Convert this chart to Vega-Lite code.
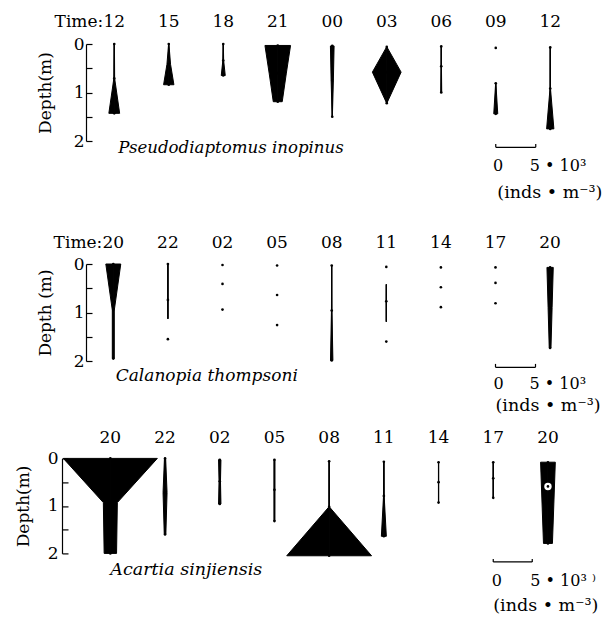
{
  "$schema": "https://vega.github.io/schema/vega-lite/v6.json",
  "padding": {"left": 14, "top": 12, "right": 5, "bottom": 2},
  "config": {
    "view": {"stroke": null},
    "font": "DejaVu Serif",
    "axis": {"grid": false, "tickSize": -6, "domainColor": "black", "tickColor": "black", "domainWidth": 1.2, "tickWidth": 1.2, "labelColor": "black", "titleColor": "black", "labelFont": "DejaVu Serif", "titleFont": "DejaVu Serif", "labelFontSize": 17, "titleFontSize": 17, "titleFontWeight": "normal", "labelFlush": false, "labelOverlap": false}
  },
  "datasets": {
    "pi": [
      {"i": 1, "t": "12", "d": 0, "a": 0.05, "s": "k", "obs": true},
      {"i": 1, "t": "12", "d": 0.71, "a": 0.1, "s": "k", "obs": true},
      {"i": 1, "t": "12", "d": 1.43, "a": 1.35, "s": "k", "obs": true},
      {"i": 2, "t": "15", "d": 0, "a": 0.04, "s": "k", "obs": true},
      {"i": 2, "t": "15", "d": 0.42, "a": 0.45, "s": "k", "obs": true},
      {"i": 2, "t": "15", "d": 0.84, "a": 1.29, "s": "k", "obs": true},
      {"i": 3, "t": "18", "d": 0, "a": 0.03, "s": "k", "obs": true},
      {"i": 3, "t": "18", "d": 0.34, "a": 0.1, "s": "k", "obs": true},
      {"i": 3, "t": "18", "d": 0.65, "a": 0.5, "s": "k", "obs": true},
      {"i": 4, "t": "21", "d": 0.03, "a": 3.2, "s": "k", "obs": true},
      {"i": 4, "t": "21", "d": 0.6, "a": 2.15, "s": "k", "obs": true},
      {"i": 4, "t": "21", "d": 1.19, "a": 1.12, "s": "k", "obs": true},
      {"i": 5, "t": "00", "d": 0.04, "a": 0.46, "s": "k", "obs": true},
      {"i": 5, "t": "00", "d": 0.75, "a": 0.28, "s": "k", "obs": true},
      {"i": 5, "t": "00", "d": 1.5, "a": 0.03, "s": "k", "obs": true},
      {"i": 6, "t": "03", "d": 0.06, "a": 0.03, "s": "k", "obs": true},
      {"i": 6, "t": "03", "d": 0.58, "a": 3.59, "s": "k", "obs": true},
      {"i": 6, "t": "03", "d": 1.22, "a": 0.03, "s": "k", "obs": true},
      {"i": 7, "t": "06", "d": 0.05, "a": 0.03, "s": "k", "obs": true},
      {"i": 7, "t": "06", "d": 0.46, "a": 0.05, "s": "k", "obs": true},
      {"i": 7, "t": "06", "d": 1.0, "a": 0.12, "s": "k", "obs": true},
      {"i": 8, "t": "09", "d": 0.08, "a": 0, "s": null, "obs": true},
      {"i": 8, "t": "09", "d": 0.81, "a": 0.03, "s": "k", "obs": true},
      {"i": 8, "t": "09", "d": 1.44, "a": 0.5, "s": "k", "obs": true},
      {"i": 9, "t": "12", "d": 0.07, "a": 0.03, "s": "k", "obs": true},
      {"i": 9, "t": "12", "d": 0.92, "a": 0.06, "s": "k", "obs": true},
      {"i": 9, "t": "12", "d": 1.75, "a": 0.91, "s": "k", "obs": true}
    ],
    "ct": [
      {"i": 1, "t": "20", "d": 0, "a": 1.87, "s": "k", "obs": true},
      {"i": 1, "t": "20", "d": 0.95, "a": 0.25, "s": "k", "obs": true},
      {"i": 1, "t": "20", "d": 1.95, "a": 0.25, "s": "k", "obs": true},
      {"i": 2, "t": "22", "d": 0, "a": 0.02, "s": "k", "obs": true},
      {"i": 2, "t": "22", "d": 0.74, "a": 0.02, "s": "k", "obs": true},
      {"i": 2, "t": "22", "d": 1.13, "a": 0, "s": "k", "obs": false},
      {"i": 2, "t": "22", "d": 1.55, "a": 0, "s": null, "obs": true},
      {"i": 3, "t": "02", "d": 0.02, "a": 0, "s": null, "obs": true},
      {"i": 3, "t": "02", "d": 0.41, "a": 0, "s": null, "obs": true},
      {"i": 3, "t": "02", "d": 0.94, "a": 0, "s": null, "obs": true},
      {"i": 4, "t": "05", "d": 0.03, "a": 0, "s": null, "obs": true},
      {"i": 4, "t": "05", "d": 0.64, "a": 0, "s": null, "obs": true},
      {"i": 4, "t": "05", "d": 1.26, "a": 0, "s": null, "obs": true},
      {"i": 5, "t": "08", "d": 0.03, "a": 0.03, "s": "k", "obs": true},
      {"i": 5, "t": "08", "d": 0.96, "a": 0.06, "s": "k", "obs": true},
      {"i": 5, "t": "08", "d": 1.99, "a": 0.3, "s": "k", "obs": true},
      {"i": 6, "t": "11", "d": 0.06, "a": 0, "s": null, "obs": true},
      {"i": 6, "t": "11", "d": 0.42, "a": 0, "s": "k", "obs": false},
      {"i": 6, "t": "11", "d": 0.77, "a": 0.04, "s": "k", "obs": true},
      {"i": 6, "t": "11", "d": 1.19, "a": 0, "s": "k", "obs": false},
      {"i": 6, "t": "11", "d": 1.6, "a": 0, "s": null, "obs": true},
      {"i": 7, "t": "14", "d": 0.07, "a": 0, "s": null, "obs": true},
      {"i": 7, "t": "14", "d": 0.48, "a": 0, "s": null, "obs": true},
      {"i": 7, "t": "14", "d": 0.89, "a": 0, "s": null, "obs": true},
      {"i": 8, "t": "17", "d": 0.07, "a": 0, "s": null, "obs": true},
      {"i": 8, "t": "17", "d": 0.39, "a": 0, "s": null, "obs": true},
      {"i": 8, "t": "17", "d": 0.81, "a": 0, "s": null, "obs": true},
      {"i": 9, "t": "20", "d": 0.07, "a": 0.79, "s": "k", "obs": true},
      {"i": 9, "t": "20", "d": 0.9, "a": 0.5, "s": "k", "obs": true},
      {"i": 9, "t": "20", "d": 1.73, "a": 0.22, "s": "k", "obs": true}
    ],
    "as": [
      {"i": 1, "t": "20", "d": 0, "a": 11.75, "s": "k", "obs": true},
      {"i": 1, "t": "20", "d": 0.93, "a": 1.75, "s": "k", "obs": true},
      {"i": 1, "t": "20", "d": 2.0, "a": 1.55, "s": "k", "obs": true},
      {"i": 2, "t": "22", "d": 0, "a": 0.15, "s": "k", "obs": true},
      {"i": 2, "t": "22", "d": 0.72, "a": 0.5, "s": "k", "obs": true},
      {"i": 2, "t": "22", "d": 1.6, "a": 0.2, "s": "k", "obs": true},
      {"i": 3, "t": "02", "d": 0.03, "a": 0.3, "s": "k", "obs": true},
      {"i": 3, "t": "02", "d": 0.48, "a": 0.18, "s": "k", "obs": true},
      {"i": 3, "t": "02", "d": 0.96, "a": 0.3, "s": "k", "obs": true},
      {"i": 4, "t": "05", "d": 0.03, "a": 0.13, "s": "k", "obs": true},
      {"i": 4, "t": "05", "d": 0.66, "a": 0.13, "s": "k", "obs": true},
      {"i": 4, "t": "05", "d": 1.32, "a": 0.12, "s": "k", "obs": true},
      {"i": 5, "t": "08", "d": 0.06, "a": 0.03, "s": "k", "obs": true},
      {"i": 5, "t": "08", "d": 1.02, "a": 0.05, "s": "k", "obs": true},
      {"i": 5, "t": "08", "d": 2.05, "a": 10.6, "s": "k", "obs": true},
      {"i": 6, "t": "11", "d": 0.07, "a": 0.03, "s": "k", "obs": true},
      {"i": 6, "t": "11", "d": 0.79, "a": 0.08, "s": "k", "obs": true},
      {"i": 6, "t": "11", "d": 1.64, "a": 0.62, "s": "k", "obs": true},
      {"i": 7, "t": "14", "d": 0.08, "a": 0.03, "s": "k", "obs": true},
      {"i": 7, "t": "14", "d": 0.5, "a": 0.03, "s": "k", "obs": true},
      {"i": 7, "t": "14", "d": 0.93, "a": 0.03, "s": "k", "obs": true},
      {"i": 8, "t": "17", "d": 0.08, "a": 0.03, "s": "k", "obs": true},
      {"i": 8, "t": "17", "d": 0.42, "a": 0.03, "s": "k", "obs": true},
      {"i": 8, "t": "17", "d": 0.83, "a": 0.03, "s": "k", "obs": true},
      {"i": 9, "t": "20", "d": 0.08, "a": 1.84, "s": "k", "obs": true},
      {"i": 9, "t": "20", "d": 0.94, "a": 1.48, "s": "k", "obs": true},
      {"i": 9, "t": "20", "d": 1.79, "a": 1.12, "s": "k", "obs": true},
      {"i": 9, "t": "20", "d": 0.59, "a": 0, "s": null, "obs": true, "ring": true}
    ]
  },
  "vconcat": [
    {
      "vconcat": [
        {
          "data": {"name": "pi"},
          "facet": {"column": {"field": "i", "type": "ordinal", "header": {"labels": false, "title": null}}},
          "spacing": {"column": 0.5},
          "bounds": "flush",
          "spec": {
            "width": 54, "height": 97,
            "resolve": {"scale": {"x": "independent"}},
            "layer": [
              {
                "transform": [{"filter": "isValid(datum.s)"}],
                "mark": {"type": "area", "orient": "horizontal", "fill": "black", "stroke": "black", "strokeWidth": 1, "strokeJoin": "round"},
                "encoding": {
                  "x": {"field": "a", "type": "quantitative", "scale": {"domain": [-7.0625, 6.4375], "nice": false, "zero": false}, "axis": null},
                  "x2": {"datum": 0},
                  "y": {"field": "d", "type": "quantitative", "scale": {"domain": [0, 2], "reverse": true, "nice": false, "zero": false}, "axis": {"title": "Depth(m)", "values": [0, 0.5, 1, 1.5, 2], "labelExpr": "datum.value % 1 === 0 ? format(datum.value, 'd') : ''", "labelPadding": 8, "titlePadding": 19, "offset": 0}},
                  "detail": {"field": "s"}
                }
              },
              {
                "transform": [{"filter": "isValid(datum.s)"}],
                "mark": {"type": "area", "orient": "horizontal", "fill": "black", "stroke": "black", "strokeWidth": 1, "strokeJoin": "round"},
                "encoding": {
                  "x": {"field": "a", "type": "quantitative", "scale": {"domain": [-6.4375, 7.0625], "nice": false, "zero": false, "reverse": true}, "axis": null},
                  "x2": {"datum": 0},
                  "y": {"field": "d", "type": "quantitative", "scale": {"domain": [0, 2], "reverse": true, "nice": false, "zero": false}, "axis": {"title": "Depth(m)", "values": [0, 0.5, 1, 1.5, 2], "labelExpr": "datum.value % 1 === 0 ? format(datum.value, 'd') : ''", "labelPadding": 8, "titlePadding": 19, "offset": 0}},
                  "detail": {"field": "s"}
                }
              },
              {
                "transform": [{"filter": "datum.obs"}],
                "mark": {"type": "point", "filled": true, "color": "black", "size": 7, "opacity": 1},
                "encoding": {
                  "x": {"datum": 0, "type": "quantitative", "scale": {"domain": [-7.0625, 6.4375], "nice": false, "zero": false}, "axis": null},
                  "y": {"field": "d", "type": "quantitative", "scale": {"domain": [0, 2], "reverse": true, "nice": false, "zero": false}, "axis": {"title": "Depth(m)", "values": [0, 0.5, 1, 1.5, 2], "labelExpr": "datum.value % 1 === 0 ? format(datum.value, 'd') : ''", "labelPadding": 8, "titlePadding": 19, "offset": 0}}
                }
              },
              {
                "transform": [{"aggregate": [{"op": "min", "field": "d", "as": "dm"}], "groupby": ["i", "t"]}],
                "mark": {"type": "text", "fontSize": 17, "align": "center", "baseline": "alphabetic", "color": "black", "font": "DejaVu Serif"},
                "encoding": {
                  "text": {"field": "t"},
                  "x": {"datum": 0, "type": "quantitative", "scale": {"domain": [-7.0625, 6.4375], "nice": false, "zero": false}, "axis": null},
                  "y": {"datum": -0.357, "type": "quantitative", "scale": {"domain": [0, 2], "reverse": true, "nice": false, "zero": false}, "axis": {"title": "Depth(m)", "values": [0, 0.5, 1, 1.5, 2], "labelExpr": "datum.value % 1 === 0 ? format(datum.value, 'd') : ''", "labelPadding": 8, "titlePadding": 19, "offset": 0}}
                }
              },
              {
                "transform": [{"filter": "datum.i === 1"}, {"aggregate": [{"op": "count", "as": "n"}], "groupby": ["i"]}],
                "layer": [
                  {
                    "mark": {"type": "text", "text": "Time:", "fontSize": 17, "align": "right", "baseline": "alphabetic", "color": "black", "font": "DejaVu Serif"},
                    "encoding": {
                      "x": {"datum": -2.75, "type": "quantitative", "scale": {"domain": [-7.0625, 6.4375], "nice": false, "zero": false}, "axis": null},
                      "y": {"datum": -0.357, "type": "quantitative", "scale": {"domain": [0, 2], "reverse": true, "nice": false, "zero": false}, "axis": {"title": "Depth(m)", "values": [0, 0.5, 1, 1.5, 2], "labelExpr": "datum.value % 1 === 0 ? format(datum.value, 'd') : ''", "labelPadding": 8, "titlePadding": 19, "offset": 0}}
                    }
                  },
                  {
                    "mark": {"type": "text", "text": "Pseudodiaptomus inopinus", "fontSize": 16.6, "fontStyle": "italic", "align": "left", "baseline": "alphabetic", "color": "black", "font": "DejaVu Serif"},
                    "encoding": {
                      "x": {"datum": 1, "type": "quantitative", "scale": {"domain": [-7.0625, 6.4375], "nice": false, "zero": false}, "axis": null},
                      "y": {"datum": 2.24, "type": "quantitative", "scale": {"domain": [0, 2], "reverse": true, "nice": false, "zero": false}, "axis": {"title": "Depth(m)", "values": [0, 0.5, 1, 1.5, 2], "labelExpr": "datum.value % 1 === 0 ? format(datum.value, 'd') : ''", "labelPadding": 8, "titlePadding": 19, "offset": 0}}
                    }
                  }
                ]
              },
              {
                "transform": [{"filter": "datum.i === 8"}, {"aggregate": [{"op": "count", "as": "n"}], "groupby": ["i"]}],
                "layer": [
                  {
                    "mark": {"type": "rule", "color": "black", "strokeWidth": 1.2},
                    "encoding": {
                      "x": {"datum": 0, "type": "quantitative", "scale": {"domain": [-7.0625, 6.4375], "nice": false, "zero": false}, "axis": null},
                      "x2": {"datum": 10},
                      "y": {"datum": 2.13, "type": "quantitative", "scale": {"domain": [0, 2], "reverse": true, "nice": false, "zero": false}, "axis": {"title": "Depth(m)", "values": [0, 0.5, 1, 1.5, 2], "labelExpr": "datum.value % 1 === 0 ? format(datum.value, 'd') : ''", "labelPadding": 8, "titlePadding": 19, "offset": 0}}
                    }
                  },
                  {
                    "mark": {"type": "rule", "color": "black", "strokeWidth": 1.2},
                    "encoding": {
                      "x": {"datum": 0, "type": "quantitative", "scale": {"domain": [-7.0625, 6.4375], "nice": false, "zero": false}, "axis": null},
                      "y": {"datum": 2.06, "type": "quantitative", "scale": {"domain": [0, 2], "reverse": true, "nice": false, "zero": false}, "axis": {"title": "Depth(m)", "values": [0, 0.5, 1, 1.5, 2], "labelExpr": "datum.value % 1 === 0 ? format(datum.value, 'd') : ''", "labelPadding": 8, "titlePadding": 19, "offset": 0}},
                      "y2": {"datum": 2.13}
                    }
                  },
                  {
                    "mark": {"type": "rule", "color": "black", "strokeWidth": 1.2},
                    "encoding": {
                      "x": {"datum": 10, "type": "quantitative", "scale": {"domain": [-7.0625, 6.4375], "nice": false, "zero": false}, "axis": null},
                      "y": {"datum": 2.06, "type": "quantitative", "scale": {"domain": [0, 2], "reverse": true, "nice": false, "zero": false}, "axis": {"title": "Depth(m)", "values": [0, 0.5, 1, 1.5, 2], "labelExpr": "datum.value % 1 === 0 ? format(datum.value, 'd') : ''", "labelPadding": 8, "titlePadding": 19, "offset": 0}},
                      "y2": {"datum": 2.13}
                    }
                  },
                  {
                    "mark": {"type": "text", "text": "0", "fontSize": 16, "align": "center", "baseline": "alphabetic", "color": "black", "font": "DejaVu Serif"},
                    "encoding": {
                      "x": {"datum": 0.6, "type": "quantitative", "scale": {"domain": [-7.0625, 6.4375], "nice": false, "zero": false}, "axis": null},
                      "y": {"datum": 2.61, "type": "quantitative", "scale": {"domain": [0, 2], "reverse": true, "nice": false, "zero": false}, "axis": {"title": "Depth(m)", "values": [0, 0.5, 1, 1.5, 2], "labelExpr": "datum.value % 1 === 0 ? format(datum.value, 'd') : ''", "labelPadding": 8, "titlePadding": 19, "offset": 0}}
                    }
                  },
                  {
                    "mark": {"type": "text", "text": "5 • 10³", "fontSize": 16, "align": "left", "baseline": "alphabetic", "color": "black", "font": "DejaVu Serif"},
                    "encoding": {
                      "x": {"datum": 8.5, "type": "quantitative", "scale": {"domain": [-7.0625, 6.4375], "nice": false, "zero": false}, "axis": null},
                      "y": {"datum": 2.61, "type": "quantitative", "scale": {"domain": [0, 2], "reverse": true, "nice": false, "zero": false}, "axis": {"title": "Depth(m)", "values": [0, 0.5, 1, 1.5, 2], "labelExpr": "datum.value % 1 === 0 ? format(datum.value, 'd') : ''", "labelPadding": 8, "titlePadding": 19, "offset": 0}}
                    }
                  },
                  {
                    "mark": {"type": "text", "text": "(inds • m⁻³)", "fontSize": 17.5, "align": "left", "baseline": "alphabetic", "color": "black", "font": "DejaVu Serif"},
                    "encoding": {
                      "x": {"datum": 0.4, "type": "quantitative", "scale": {"domain": [-7.0625, 6.4375], "nice": false, "zero": false}, "axis": null},
                      "y": {"datum": 3.17, "type": "quantitative", "scale": {"domain": [0, 2], "reverse": true, "nice": false, "zero": false}, "axis": {"title": "Depth(m)", "values": [0, 0.5, 1, 1.5, 2], "labelExpr": "datum.value % 1 === 0 ? format(datum.value, 'd') : ''", "labelPadding": 8, "titlePadding": 19, "offset": 0}}
                    }
                  }
                ]
              }
            ]
          }
        },
        {
          "data": {"name": "ct"},
          "facet": {"column": {"field": "i", "type": "ordinal", "header": {"labels": false, "title": null}}},
          "spacing": {"column": 0.6},
          "bounds": "flush",
          "spec": {
            "width": 54, "height": 97,
            "resolve": {"scale": {"x": "independent"}},
            "layer": [
              {
                "transform": [{"filter": "isValid(datum.s)"}],
                "mark": {"type": "area", "orient": "horizontal", "fill": "black", "stroke": "black", "strokeWidth": 1, "strokeJoin": "round"},
                "encoding": {
                  "x": {"field": "a", "type": "quantitative", "scale": {"domain": [-6.825, 6.675], "nice": false, "zero": false}, "axis": null},
                  "x2": {"datum": 0},
                  "y": {"field": "d", "type": "quantitative", "scale": {"domain": [0, 2], "reverse": true, "nice": false, "zero": false}, "axis": {"title": "Depth (m)", "values": [0, 0.5, 1, 1.5, 2], "labelExpr": "datum.value % 1 === 0 ? format(datum.value, 'd') : ''", "labelPadding": 8, "titlePadding": 19, "offset": 0}},
                  "detail": {"field": "s"}
                }
              },
              {
                "transform": [{"filter": "isValid(datum.s)"}],
                "mark": {"type": "area", "orient": "horizontal", "fill": "black", "stroke": "black", "strokeWidth": 1, "strokeJoin": "round"},
                "encoding": {
                  "x": {"field": "a", "type": "quantitative", "scale": {"domain": [-6.675, 6.825], "nice": false, "zero": false, "reverse": true}, "axis": null},
                  "x2": {"datum": 0},
                  "y": {"field": "d", "type": "quantitative", "scale": {"domain": [0, 2], "reverse": true, "nice": false, "zero": false}, "axis": {"title": "Depth (m)", "values": [0, 0.5, 1, 1.5, 2], "labelExpr": "datum.value % 1 === 0 ? format(datum.value, 'd') : ''", "labelPadding": 8, "titlePadding": 19, "offset": 0}},
                  "detail": {"field": "s"}
                }
              },
              {
                "transform": [{"filter": "datum.obs"}],
                "mark": {"type": "point", "filled": true, "color": "black", "size": 7, "opacity": 1},
                "encoding": {
                  "x": {"datum": 0, "type": "quantitative", "scale": {"domain": [-6.825, 6.675], "nice": false, "zero": false}, "axis": null},
                  "y": {"field": "d", "type": "quantitative", "scale": {"domain": [0, 2], "reverse": true, "nice": false, "zero": false}, "axis": {"title": "Depth (m)", "values": [0, 0.5, 1, 1.5, 2], "labelExpr": "datum.value % 1 === 0 ? format(datum.value, 'd') : ''", "labelPadding": 8, "titlePadding": 19, "offset": 0}}
                }
              },
              {
                "transform": [{"aggregate": [{"op": "min", "field": "d", "as": "dm"}], "groupby": ["i", "t"]}],
                "mark": {"type": "text", "fontSize": 17, "align": "center", "baseline": "alphabetic", "color": "black", "font": "DejaVu Serif"},
                "encoding": {
                  "text": {"field": "t"},
                  "x": {"datum": 0, "type": "quantitative", "scale": {"domain": [-6.825, 6.675], "nice": false, "zero": false}, "axis": null},
                  "y": {"datum": -0.34, "type": "quantitative", "scale": {"domain": [0, 2], "reverse": true, "nice": false, "zero": false}, "axis": {"title": "Depth (m)", "values": [0, 0.5, 1, 1.5, 2], "labelExpr": "datum.value % 1 === 0 ? format(datum.value, 'd') : ''", "labelPadding": 8, "titlePadding": 19, "offset": 0}}
                }
              },
              {
                "transform": [{"filter": "datum.i === 1"}, {"aggregate": [{"op": "count", "as": "n"}], "groupby": ["i"]}],
                "layer": [
                  {
                    "mark": {"type": "text", "text": "Time:", "fontSize": 17, "align": "right", "baseline": "alphabetic", "color": "black", "font": "DejaVu Serif"},
                    "encoding": {
                      "x": {"datum": -2.75, "type": "quantitative", "scale": {"domain": [-6.825, 6.675], "nice": false, "zero": false}, "axis": null},
                      "y": {"datum": -0.34, "type": "quantitative", "scale": {"domain": [0, 2], "reverse": true, "nice": false, "zero": false}, "axis": {"title": "Depth (m)", "values": [0, 0.5, 1, 1.5, 2], "labelExpr": "datum.value % 1 === 0 ? format(datum.value, 'd') : ''", "labelPadding": 8, "titlePadding": 19, "offset": 0}}
                    }
                  },
                  {
                    "mark": {"type": "text", "text": "Calanopia thompsoni", "fontSize": 17, "fontStyle": "italic", "align": "left", "baseline": "alphabetic", "color": "black", "font": "DejaVu Serif"},
                    "encoding": {
                      "x": {"datum": 0.6, "type": "quantitative", "scale": {"domain": [-6.825, 6.675], "nice": false, "zero": false}, "axis": null},
                      "y": {"datum": 2.41, "type": "quantitative", "scale": {"domain": [0, 2], "reverse": true, "nice": false, "zero": false}, "axis": {"title": "Depth (m)", "values": [0, 0.5, 1, 1.5, 2], "labelExpr": "datum.value % 1 === 0 ? format(datum.value, 'd') : ''", "labelPadding": 8, "titlePadding": 19, "offset": 0}}
                    }
                  }
                ]
              },
              {
                "transform": [{"filter": "datum.i === 8"}, {"aggregate": [{"op": "count", "as": "n"}], "groupby": ["i"]}],
                "layer": [
                  {
                    "mark": {"type": "rule", "color": "black", "strokeWidth": 1.2},
                    "encoding": {
                      "x": {"datum": 0, "type": "quantitative", "scale": {"domain": [-6.825, 6.675], "nice": false, "zero": false}, "axis": null},
                      "x2": {"datum": 10},
                      "y": {"datum": 2.13, "type": "quantitative", "scale": {"domain": [0, 2], "reverse": true, "nice": false, "zero": false}, "axis": {"title": "Depth (m)", "values": [0, 0.5, 1, 1.5, 2], "labelExpr": "datum.value % 1 === 0 ? format(datum.value, 'd') : ''", "labelPadding": 8, "titlePadding": 19, "offset": 0}}
                    }
                  },
                  {
                    "mark": {"type": "rule", "color": "black", "strokeWidth": 1.2},
                    "encoding": {
                      "x": {"datum": 0, "type": "quantitative", "scale": {"domain": [-6.825, 6.675], "nice": false, "zero": false}, "axis": null},
                      "y": {"datum": 2.06, "type": "quantitative", "scale": {"domain": [0, 2], "reverse": true, "nice": false, "zero": false}, "axis": {"title": "Depth (m)", "values": [0, 0.5, 1, 1.5, 2], "labelExpr": "datum.value % 1 === 0 ? format(datum.value, 'd') : ''", "labelPadding": 8, "titlePadding": 19, "offset": 0}},
                      "y2": {"datum": 2.13}
                    }
                  },
                  {
                    "mark": {"type": "rule", "color": "black", "strokeWidth": 1.2},
                    "encoding": {
                      "x": {"datum": 10, "type": "quantitative", "scale": {"domain": [-6.825, 6.675], "nice": false, "zero": false}, "axis": null},
                      "y": {"datum": 2.06, "type": "quantitative", "scale": {"domain": [0, 2], "reverse": true, "nice": false, "zero": false}, "axis": {"title": "Depth (m)", "values": [0, 0.5, 1, 1.5, 2], "labelExpr": "datum.value % 1 === 0 ? format(datum.value, 'd') : ''", "labelPadding": 8, "titlePadding": 19, "offset": 0}},
                      "y2": {"datum": 2.13}
                    }
                  },
                  {
                    "mark": {"type": "text", "text": "0", "fontSize": 16, "align": "center", "baseline": "alphabetic", "color": "black", "font": "DejaVu Serif"},
                    "encoding": {
                      "x": {"datum": 0.75, "type": "quantitative", "scale": {"domain": [-6.825, 6.675], "nice": false, "zero": false}, "axis": null},
                      "y": {"datum": 2.57, "type": "quantitative", "scale": {"domain": [0, 2], "reverse": true, "nice": false, "zero": false}, "axis": {"title": "Depth (m)", "values": [0, 0.5, 1, 1.5, 2], "labelExpr": "datum.value % 1 === 0 ? format(datum.value, 'd') : ''", "labelPadding": 8, "titlePadding": 19, "offset": 0}}
                    }
                  },
                  {
                    "mark": {"type": "text", "text": "5 • 10³", "fontSize": 16, "align": "left", "baseline": "alphabetic", "color": "black", "font": "DejaVu Serif"},
                    "encoding": {
                      "x": {"datum": 8.5, "type": "quantitative", "scale": {"domain": [-6.825, 6.675], "nice": false, "zero": false}, "axis": null},
                      "y": {"datum": 2.57, "type": "quantitative", "scale": {"domain": [0, 2], "reverse": true, "nice": false, "zero": false}, "axis": {"title": "Depth (m)", "values": [0, 0.5, 1, 1.5, 2], "labelExpr": "datum.value % 1 === 0 ? format(datum.value, 'd') : ''", "labelPadding": 8, "titlePadding": 19, "offset": 0}}
                    }
                  },
                  {
                    "mark": {"type": "text", "text": "(inds • m⁻³)", "fontSize": 17.5, "align": "left", "baseline": "alphabetic", "color": "black", "font": "DejaVu Serif"},
                    "encoding": {
                      "x": {"datum": 0, "type": "quantitative", "scale": {"domain": [-6.825, 6.675], "nice": false, "zero": false}, "axis": null},
                      "y": {"datum": 3.04, "type": "quantitative", "scale": {"domain": [0, 2], "reverse": true, "nice": false, "zero": false}, "axis": {"title": "Depth (m)", "values": [0, 0.5, 1, 1.5, 2], "labelExpr": "datum.value % 1 === 0 ? format(datum.value, 'd') : ''", "labelPadding": 8, "titlePadding": 19, "offset": 0}}
                    }
                  }
                ]
              }
            ]
          }
        }
      ],
      "spacing": 220,
      "bounds": "flush"
    },
    {
      "data": {"name": "as"},
      "facet": {"column": {"field": "i", "type": "ordinal", "header": {"labels": false, "title": null}}},
      "spacing": {"column": 0.7},
      "bounds": "flush",
      "spec": {
        "width": 54, "height": 95,
        "resolve": {"scale": {"x": "independent"}},
        "layer": [
          {
            "transform": [{"filter": "isValid(datum.s)"}],
            "mark": {"type": "area", "orient": "horizontal", "fill": "black", "stroke": "black", "strokeWidth": 1, "strokeJoin": "round"},
            "encoding": {
              "x": {"field": "a", "type": "quantitative", "scale": {"domain": [-6.0875, 7.4125], "nice": false, "zero": false}, "axis": null},
              "x2": {"datum": 0},
              "y": {"field": "d", "type": "quantitative", "scale": {"domain": [0, 2], "reverse": true, "nice": false, "zero": false}, "axis": {"title": "Depth(m)", "values": [0, 0.5, 1, 1.5, 2], "labelExpr": "datum.value % 1 === 0 ? format(datum.value, 'd') : ''", "labelPadding": 10, "titlePadding": 15, "offset": 24}},
              "detail": {"field": "s"}
            }
          },
          {
            "transform": [{"filter": "isValid(datum.s)"}],
            "mark": {"type": "area", "orient": "horizontal", "fill": "black", "stroke": "black", "strokeWidth": 1, "strokeJoin": "round"},
            "encoding": {
              "x": {"field": "a", "type": "quantitative", "scale": {"domain": [-7.4125, 6.0875], "nice": false, "zero": false, "reverse": true}, "axis": null},
              "x2": {"datum": 0},
              "y": {"field": "d", "type": "quantitative", "scale": {"domain": [0, 2], "reverse": true, "nice": false, "zero": false}, "axis": {"title": "Depth(m)", "values": [0, 0.5, 1, 1.5, 2], "labelExpr": "datum.value % 1 === 0 ? format(datum.value, 'd') : ''", "labelPadding": 10, "titlePadding": 15, "offset": 24}},
              "detail": {"field": "s"}
            }
          },
          {
            "transform": [{"filter": "datum.ring === true"}],
            "mark": {"type": "point", "filled": true, "color": "white", "size": 55, "opacity": 1},
            "encoding": {
              "x": {"datum": 0, "type": "quantitative", "scale": {"domain": [-6.0875, 7.4125], "nice": false, "zero": false}, "axis": null},
              "y": {"field": "d", "type": "quantitative", "scale": {"domain": [0, 2], "reverse": true, "nice": false, "zero": false}, "axis": {"title": "Depth(m)", "values": [0, 0.5, 1, 1.5, 2], "labelExpr": "datum.value % 1 === 0 ? format(datum.value, 'd') : ''", "labelPadding": 10, "titlePadding": 15, "offset": 24}}
            }
          },
          {
            "transform": [{"filter": "datum.obs"}],
            "mark": {"type": "point", "filled": true, "color": "black", "size": 7, "opacity": 1},
            "encoding": {
              "x": {"datum": 0, "type": "quantitative", "scale": {"domain": [-6.0875, 7.4125], "nice": false, "zero": false}, "axis": null},
              "y": {"field": "d", "type": "quantitative", "scale": {"domain": [0, 2], "reverse": true, "nice": false, "zero": false}, "axis": {"title": "Depth(m)", "values": [0, 0.5, 1, 1.5, 2], "labelExpr": "datum.value % 1 === 0 ? format(datum.value, 'd') : ''", "labelPadding": 10, "titlePadding": 15, "offset": 24}}
            }
          },
          {
            "transform": [{"aggregate": [{"op": "min", "field": "d", "as": "dm"}], "groupby": ["i", "t"]}],
            "mark": {"type": "text", "fontSize": 17, "align": "center", "baseline": "alphabetic", "color": "black", "font": "DejaVu Serif"},
            "encoding": {
              "text": {"field": "t"},
              "x": {"datum": 0, "type": "quantitative", "scale": {"domain": [-6.0875, 7.4125], "nice": false, "zero": false}, "axis": null},
              "y": {"datum": -0.33, "type": "quantitative", "scale": {"domain": [0, 2], "reverse": true, "nice": false, "zero": false}, "axis": {"title": "Depth(m)", "values": [0, 0.5, 1, 1.5, 2], "labelExpr": "datum.value % 1 === 0 ? format(datum.value, 'd') : ''", "labelPadding": 10, "titlePadding": 15, "offset": 24}}
            }
          },
          {
            "transform": [{"filter": "datum.i === 1"}, {"aggregate": [{"op": "count", "as": "n"}], "groupby": ["i"]}],
            "mark": {"type": "text", "text": "Acartia sinjiensis", "fontSize": 17.5, "fontStyle": "italic", "align": "left", "baseline": "alphabetic", "color": "black", "font": "DejaVu Serif"},
            "encoding": {
              "x": {"datum": 0, "type": "quantitative", "scale": {"domain": [-6.0875, 7.4125], "nice": false, "zero": false}, "axis": null},
              "y": {"datum": 2.46, "type": "quantitative", "scale": {"domain": [0, 2], "reverse": true, "nice": false, "zero": false}, "axis": {"title": "Depth(m)", "values": [0, 0.5, 1, 1.5, 2], "labelExpr": "datum.value % 1 === 0 ? format(datum.value, 'd') : ''", "labelPadding": 10, "titlePadding": 15, "offset": 24}}
            }
          },
          {
            "transform": [{"filter": "datum.i === 8"}, {"aggregate": [{"op": "count", "as": "n"}], "groupby": ["i"]}],
            "layer": [
              {
                "mark": {"type": "rule", "color": "black", "strokeWidth": 1.2},
                "encoding": {
                  "x": {"datum": 0, "type": "quantitative", "scale": {"domain": [-6.0875, 7.4125], "nice": false, "zero": false}, "axis": null},
                  "x2": {"datum": 9.75},
                  "y": {"datum": 2.18, "type": "quantitative", "scale": {"domain": [0, 2], "reverse": true, "nice": false, "zero": false}, "axis": {"title": "Depth(m)", "values": [0, 0.5, 1, 1.5, 2], "labelExpr": "datum.value % 1 === 0 ? format(datum.value, 'd') : ''", "labelPadding": 10, "titlePadding": 15, "offset": 24}}
                }
              },
              {
                "mark": {"type": "rule", "color": "black", "strokeWidth": 1.2},
                "encoding": {
                  "x": {"datum": 0, "type": "quantitative", "scale": {"domain": [-6.0875, 7.4125], "nice": false, "zero": false}, "axis": null},
                  "y": {"datum": 2.12, "type": "quantitative", "scale": {"domain": [0, 2], "reverse": true, "nice": false, "zero": false}, "axis": {"title": "Depth(m)", "values": [0, 0.5, 1, 1.5, 2], "labelExpr": "datum.value % 1 === 0 ? format(datum.value, 'd') : ''", "labelPadding": 10, "titlePadding": 15, "offset": 24}},
                  "y2": {"datum": 2.18}
                }
              },
              {
                "mark": {"type": "rule", "color": "black", "strokeWidth": 1.2},
                "encoding": {
                  "x": {"datum": 9.75, "type": "quantitative", "scale": {"domain": [-6.0875, 7.4125], "nice": false, "zero": false}, "axis": null},
                  "y": {"datum": 2.12, "type": "quantitative", "scale": {"domain": [0, 2], "reverse": true, "nice": false, "zero": false}, "axis": {"title": "Depth(m)", "values": [0, 0.5, 1, 1.5, 2], "labelExpr": "datum.value % 1 === 0 ? format(datum.value, 'd') : ''", "labelPadding": 10, "titlePadding": 15, "offset": 24}},
                  "y2": {"datum": 2.18}
                }
              },
              {
                "mark": {"type": "text", "text": "0", "fontSize": 16, "align": "center", "baseline": "alphabetic", "color": "black", "font": "DejaVu Serif"},
                "encoding": {
                  "x": {"datum": 0.9, "type": "quantitative", "scale": {"domain": [-6.0875, 7.4125], "nice": false, "zero": false}, "axis": null},
                  "y": {"datum": 2.69, "type": "quantitative", "scale": {"domain": [0, 2], "reverse": true, "nice": false, "zero": false}, "axis": {"title": "Depth(m)", "values": [0, 0.5, 1, 1.5, 2], "labelExpr": "datum.value % 1 === 0 ? format(datum.value, 'd') : ''", "labelPadding": 10, "titlePadding": 15, "offset": 24}}
                }
              },
              {
                "mark": {"type": "text", "text": "5 • 10³ ⁾", "fontSize": 16, "align": "left", "baseline": "alphabetic", "color": "black", "font": "DejaVu Serif"},
                "encoding": {
                  "x": {"datum": 9.25, "type": "quantitative", "scale": {"domain": [-6.0875, 7.4125], "nice": false, "zero": false}, "axis": null},
                  "y": {"datum": 2.69, "type": "quantitative", "scale": {"domain": [0, 2], "reverse": true, "nice": false, "zero": false}, "axis": {"title": "Depth(m)", "values": [0, 0.5, 1, 1.5, 2], "labelExpr": "datum.value % 1 === 0 ? format(datum.value, 'd') : ''", "labelPadding": 10, "titlePadding": 15, "offset": 24}}
                }
              },
              {
                "mark": {"type": "text", "text": "(inds • m⁻³)", "fontSize": 17.5, "align": "left", "baseline": "alphabetic", "color": "black", "font": "DejaVu Serif"},
                "encoding": {
                  "x": {"datum": 0, "type": "quantitative", "scale": {"domain": [-6.0875, 7.4125], "nice": false, "zero": false}, "axis": null},
                  "y": {"datum": 3.22, "type": "quantitative", "scale": {"domain": [0, 2], "reverse": true, "nice": false, "zero": false}, "axis": {"title": "Depth(m)", "values": [0, 0.5, 1, 1.5, 2], "labelExpr": "datum.value % 1 === 0 ? format(datum.value, 'd') : ''", "labelPadding": 10, "titlePadding": 15, "offset": 24}}
                }
              }
            ]
          }
        ]
      }
    }
  ],
  "spacing": 414.4,
  "bounds": "flush"
}
